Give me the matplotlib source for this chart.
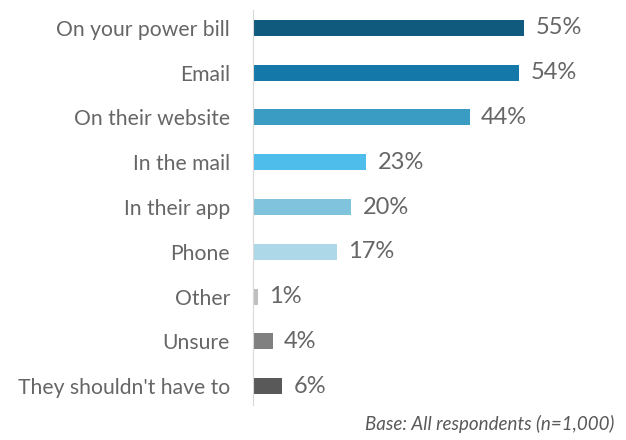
import matplotlib.pyplot as plt

# Survey data
categories = ['On your power bill', 'Email', 'On their website', 'In the mail',
              'In their app', 'Phone', 'Other', 'Unsure', "They shouldn't have to"]
values = [55, 54, 44, 23, 20, 17, 1, 4, 6]
colors = ['#0F5A7D', '#1478A8', '#3A9CC2', '#4FBDEB', '#80C3DC',
          '#ADD8E7', '#BFBFBF', '#808080', '#595959']

plt.rcParams['font.family'] = ['Lato', 'DejaVu Sans']

fig = plt.figure(figsize=(6.26, 4.4), dpi=100)
ax = fig.add_axes([0.404, 0.0795, 0.551, 0.898])

y = list(range(len(categories)))
ax.barh(y, values, height=0.36, color=colors)

# value labels
for yi, v in zip(y, values):
    ax.text(v + 2.3, yi, f'{v}%', va='center', ha='left', fontsize=17, color='#666666')

ax.set_yticks(y)
ax.set_yticklabels(categories, fontsize=15.2, color='#666666')
ax.tick_params(axis='y', length=0, pad=16.5)
ax.set_xticks([])
ax.set_xlim(0, 70)
ax.set_ylim(8.42, -0.4)

for s in ['top', 'right', 'bottom']:
    ax.spines[s].set_visible(False)
ax.spines['left'].set_color('#D9D9D9')

fig.text(0.981, 0.036, 'Base: All respondents (n=1,000)', ha='right', va='center',
         fontsize=13.5, style='italic', color='#595959')

fig.savefig('out.png', dpi=100)
